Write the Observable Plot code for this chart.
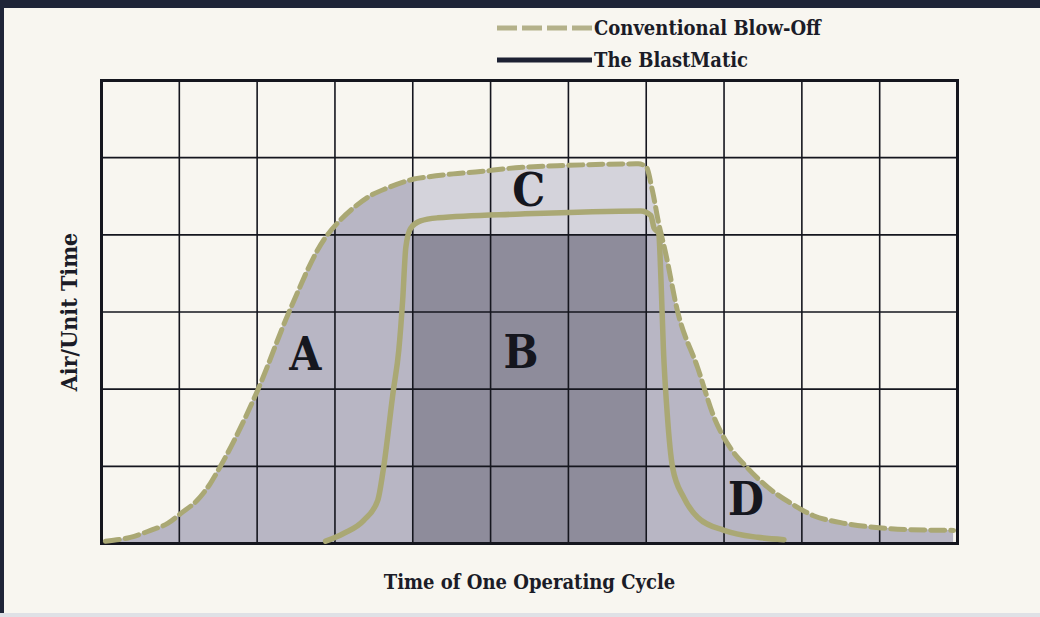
<!DOCTYPE html>
<html><head><meta charset="utf-8">
<script src="https://cdn.jsdelivr.net/npm/d3@7"></script>
<script src="https://cdn.jsdelivr.net/npm/@observablehq/plot@0.6"></script>
<style>
html,body{margin:0;padding:0;background:#f8f6f0;}
#wrap{position:relative;width:1040px;height:617px;overflow:hidden;background:#f8f6f0;
  font-family:"DejaVu Serif Condensed","DejaVu Serif",serif;font-weight:bold;color:#1b1c27;}
#topband{position:absolute;left:0;top:0;width:1040px;height:8px;background:#1f2538;}
#leftband{position:absolute;left:0;top:0;width:4px;height:617px;background:#1f2538;}
#bottomband{position:absolute;left:0;top:613px;width:1040px;height:4px;background:#dfe1e6;}
#legend{position:absolute;left:497px;top:12px;}
.item{display:flex;align-items:center;height:32px;font-size:20px;line-height:20px;}
.item svg{display:block;margin-right:2px;}
#chart{position:absolute;left:0;top:0;}
</style>
</head><body>
<div id="wrap">
  <div id="chart"></div>
  <div id="topband"></div>
  <div id="leftband"></div>
  <div id="bottomband"></div>
  <div id="legend"></div>
</div>
<script>
// ---- data ----
const seriesNames = ["Conventional Blow-Off", "The BlastMatic"];

const convX = [0.05, 0.37, 0.63, 0.85, 1.02, 1.23, 1.40, 1.50, 2.00, 2.41, 2.86, 3.03, 3.24, 3.46, 3.68, 3.93, 4.00, 4.19, 4.52, 4.87, 5.22, 6.00, 6.90, 7.00, 7.08, 7.16, 7.25, 7.40, 7.66, 7.89, 8.08, 8.30, 8.56, 8.86, 9.15, 9.50, 9.92, 10.36, 10.95];
const convY = [0.03, 0.08, 0.17, 0.26, 0.39, 0.56, 0.78, 0.95, 1.97, 3.00, 3.94, 4.15, 4.35, 4.51, 4.61, 4.70, 4.72, 4.75, 4.79, 4.82, 4.86, 4.90, 4.92, 4.88, 4.57, 4.15, 3.76, 3.02, 2.28, 1.59, 1.24, 0.98, 0.73, 0.52, 0.36, 0.27, 0.21, 0.18, 0.17];

const blastX = [2.88, 3.11, 3.37, 3.55, 3.62, 3.75, 3.82, 3.87, 3.91, 3.97, 4.10, 4.32, 5.39, 6.93, 7.06, 7.10, 7.16, 7.19, 7.22, 7.27, 7.34, 7.48, 7.66, 8.00, 8.43, 8.77];
const blastY = [0.03, 0.13, 0.30, 0.56, 0.95, 1.98, 2.50, 3.15, 3.83, 4.08, 4.18, 4.22, 4.27, 4.31, 4.25, 4.09, 4.02, 3.41, 2.54, 1.68, 0.98, 0.60, 0.34, 0.17, 0.08, 0.05];

const regionLetters = ["A", "B", "C", "D"];
const regionX = [2.62, 5.39, 5.49, 8.28];
const regionY = [2.44, 2.47, 4.57, 0.56];

// region B block and region C band (in data units)
const regionB = {x1: 4, x2: 7, y1: 0, y2: 4};
const regionCFloor = 4;
const regionCFrom = 4, regionCTo = 7.25;

const xTicks = [0,1,2,3,4,5,6,7,8,9,10,11];
const yTicks = [0,1,2,3,4,5,6];

// ---- build tables ----
const conv = convX.map((x, i) => ({x, y: convY[i]}));
const blast = blastX.map((x, i) => ({x, y: blastY[i]}));
const labels = regionLetters.map((t, i) => ({t, x: regionX[i], y: regionY[i]}));
const convC = conv.filter(d => d.x >= regionCFrom && d.x <= regionCTo);

const khaki = "#aaa874";
const ink = "#15161e";

const chart = Plot.plot({
  width: 1040, height: 617,
  marginLeft: 101, marginRight: 83, marginTop: 80, marginBottom: 74,
  style: {background: "transparent", fontFamily: '"DejaVu Serif Condensed","DejaVu Serif",serif', fontWeight: "bold", color: "#1b1c27"},
  x: {domain: [0, 11]},
  y: {domain: [0, 6]},
  marks: [
    Plot.areaY(conv, {x: "x", y: "y", curve: "monotone-x", fill: "#b8b6c4"}),
    Plot.areaY(convC, {x: "x", y1: regionCFloor, y2: d => Math.max(regionCFloor, d.y), curve: "monotone-x", fill: "#d4d3db"}),
    Plot.rect([regionB], {x1: "x1", x2: "x2", y1: "y1", y2: "y2", fill: "#8e8c9b"}),
    Plot.gridX(xTicks, {stroke: ink, strokeOpacity: 1, strokeWidth: 1.6}),
    Plot.gridY(yTicks, {stroke: ink, strokeOpacity: 1, strokeWidth: 1.6}),
    Plot.frame({stroke: ink, strokeWidth: 3}),
    Plot.line(blast, {x: "x", y: "y", curve: "monotone-x", stroke: khaki, strokeWidth: 5.5}),
    Plot.line(conv, {x: "x", y: "y", curve: "monotone-x", stroke: khaki, strokeWidth: 5, strokeDasharray: "14,6"}),
    Plot.text(labels, {x: "x", y: "y", text: "t", fontSize: 46, fontWeight: "bold", fill: ink}),
    Plot.axisX({ticks: xTicks, tickSize: 0, tickFormat: () => "", label: "Time of One Operating Cycle",
      labelAnchor: "center", labelArrow: "none", labelOffset: 45, fontSize: 20}),
    Plot.axisY({ticks: yTicks, tickSize: 0, tickFormat: () => "", label: "Air/Unit Time",
      labelAnchor: "center", labelArrow: "none", labelOffset: 41, fontSize: 23})
  ]
});
document.getElementById("chart").appendChild(chart);

// ---- legend ----
const legend = document.getElementById("legend");
const legendStyles = [
  {stroke: "#b4b18a", width: 5, dash: "20,5"},
  {stroke: "#1d2133", width: 5, dash: null}
];
seriesNames.forEach((name, i) => {
  const s = legendStyles[i];
  const row = document.createElement("div");
  row.className = "item";
  row.innerHTML = `<svg width="95" height="10"><line x1="0" y1="5" x2="95" y2="5" stroke="${s.stroke}" stroke-width="${s.width}" ${s.dash ? `stroke-dasharray="${s.dash}"` : ""}/></svg><span>${name}</span>`;
  legend.appendChild(row);
});
</script>
</body></html>
